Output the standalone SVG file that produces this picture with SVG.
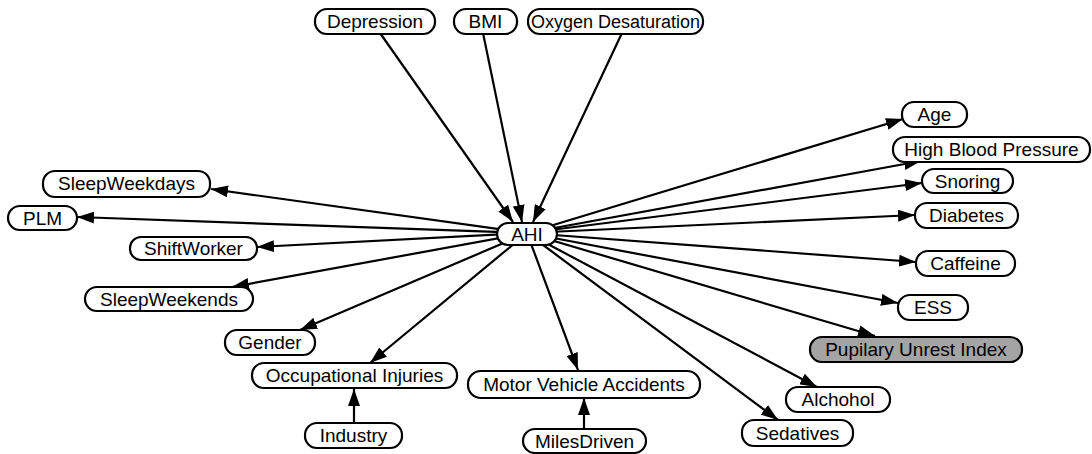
<svg xmlns="http://www.w3.org/2000/svg" width="1092" height="454" viewBox="0 0 1092 454">
<style>
.n rect{fill:#fff;stroke:#000;stroke-width:2.2}
.n text{font-family:"Liberation Sans",Arial,sans-serif;font-size:19px;fill:#000;text-anchor:middle}
#oxygen text{font-size:18px}
#pupilary rect{fill:#a4a4a4}
#edges line{stroke:#000;stroke-width:2.2;marker-end:url(#ah)}
</style>
<defs>
<marker id="ah" markerUnits="userSpaceOnUse" markerWidth="18" markerHeight="12" refX="17" refY="6" orient="auto">
<path d="M0,0 L17,6 L0,12 z" fill="#000"/>
</marker>
</defs>
<rect width="1092" height="454" fill="#fff"/>
<g id="edges">
<line x1="380" y1="33" x2="513" y2="222"/>
<line x1="483" y1="33" x2="522" y2="222"/>
<line x1="622" y1="33" x2="533" y2="222"/>
<line x1="527" y1="233" x2="903" y2="119"/>
<line x1="527" y1="233" x2="921" y2="161"/>
<line x1="527" y1="233" x2="922" y2="183"/>
<line x1="527" y1="233" x2="915" y2="215"/>
<line x1="527" y1="233" x2="916" y2="262"/>
<line x1="527" y1="233" x2="898" y2="303"/>
<line x1="527" y1="233" x2="875" y2="336"/>
<line x1="527" y1="233" x2="817" y2="387"/>
<line x1="527" y1="233" x2="778" y2="420"/>
<line x1="527" y1="233" x2="578" y2="370"/>
<line x1="527" y1="233" x2="370" y2="363"/>
<line x1="527" y1="233" x2="300" y2="330"/>
<line x1="527" y1="233" x2="232" y2="287"/>
<line x1="527" y1="233" x2="257" y2="247"/>
<line x1="527" y1="233" x2="77" y2="217"/>
<line x1="527" y1="233" x2="211" y2="189"/>
<line x1="354" y1="423" x2="354" y2="389"/>
<line x1="584" y1="429" x2="584" y2="398"/>
</g>
<g id="depression" class="n"><rect x="315" y="9" width="120" height="25" rx="12"/><text x="375" y="28">Depression</text></g>
<g id="bmi" class="n"><rect x="454" y="9" width="63" height="25" rx="12"/><text x="485.5" y="28">BMI</text></g>
<g id="oxygen" class="n"><rect x="528" y="9" width="175" height="25" rx="12"/><text x="615.5" y="28">Oxygen Desaturation</text></g>
<g id="ahi" class="n"><rect x="497" y="223" width="60" height="22" rx="11"/><text x="527" y="241">AHI</text></g>
<g id="age" class="n"><rect x="902" y="102" width="65" height="25" rx="12"/><text x="934.5" y="121">Age</text></g>
<g id="hbp" class="n"><rect x="893" y="137" width="197" height="25" rx="12"/><text x="991.5" y="156">High Blood Pressure</text></g>
<g id="snoring" class="n"><rect x="922" y="169" width="91" height="24" rx="12"/><text x="967.5" y="188">Snoring</text></g>
<g id="diabetes" class="n"><rect x="915" y="203" width="103" height="25" rx="12"/><text x="966.5" y="222">Diabetes</text></g>
<g id="caffeine" class="n"><rect x="916" y="251" width="99" height="25" rx="12"/><text x="965.5" y="270">Caffeine</text></g>
<g id="ess" class="n"><rect x="898" y="295" width="70" height="25" rx="12"/><text x="933" y="314">ESS</text></g>
<g id="pupilary" class="n"><rect x="810" y="337" width="212" height="25" rx="12"/><text x="916" y="356">Pupilary Unrest Index</text></g>
<g id="alchohol" class="n"><rect x="786" y="387" width="104" height="25" rx="12"/><text x="838" y="406">Alchohol</text></g>
<g id="sedatives" class="n"><rect x="742" y="420" width="111" height="26" rx="12"/><text x="797.5" y="440">Sedatives</text></g>
<g id="mva" class="n"><rect x="468" y="371" width="232" height="27" rx="13"/><text x="584" y="391">Motor Vehicle Accidents</text></g>
<g id="milesdriven" class="n"><rect x="523" y="429" width="123" height="24" rx="12"/><text x="584.5" y="448">MilesDriven</text></g>
<g id="occupational" class="n"><rect x="252" y="363" width="205" height="25" rx="12"/><text x="354.5" y="382">Occupational Injuries</text></g>
<g id="industry" class="n"><rect x="305" y="423" width="97" height="25" rx="12"/><text x="353.5" y="442">Industry</text></g>
<g id="gender" class="n"><rect x="225" y="330" width="90" height="25" rx="12"/><text x="270" y="349">Gender</text></g>
<g id="sleepweekends" class="n"><rect x="85" y="287" width="168" height="24" rx="12"/><text x="169" y="306">SleepWeekends</text></g>
<g id="shiftworker" class="n"><rect x="130" y="237" width="127" height="23" rx="11"/><text x="193.5" y="255">ShiftWorker</text></g>
<g id="plm" class="n"><rect x="8" y="206" width="69" height="24" rx="12"/><text x="42.5" y="225">PLM</text></g>
<g id="sleepweekdays" class="n"><rect x="43" y="171" width="167" height="26" rx="12"/><text x="126.5" y="190">SleepWeekdays</text></g>
</svg>
